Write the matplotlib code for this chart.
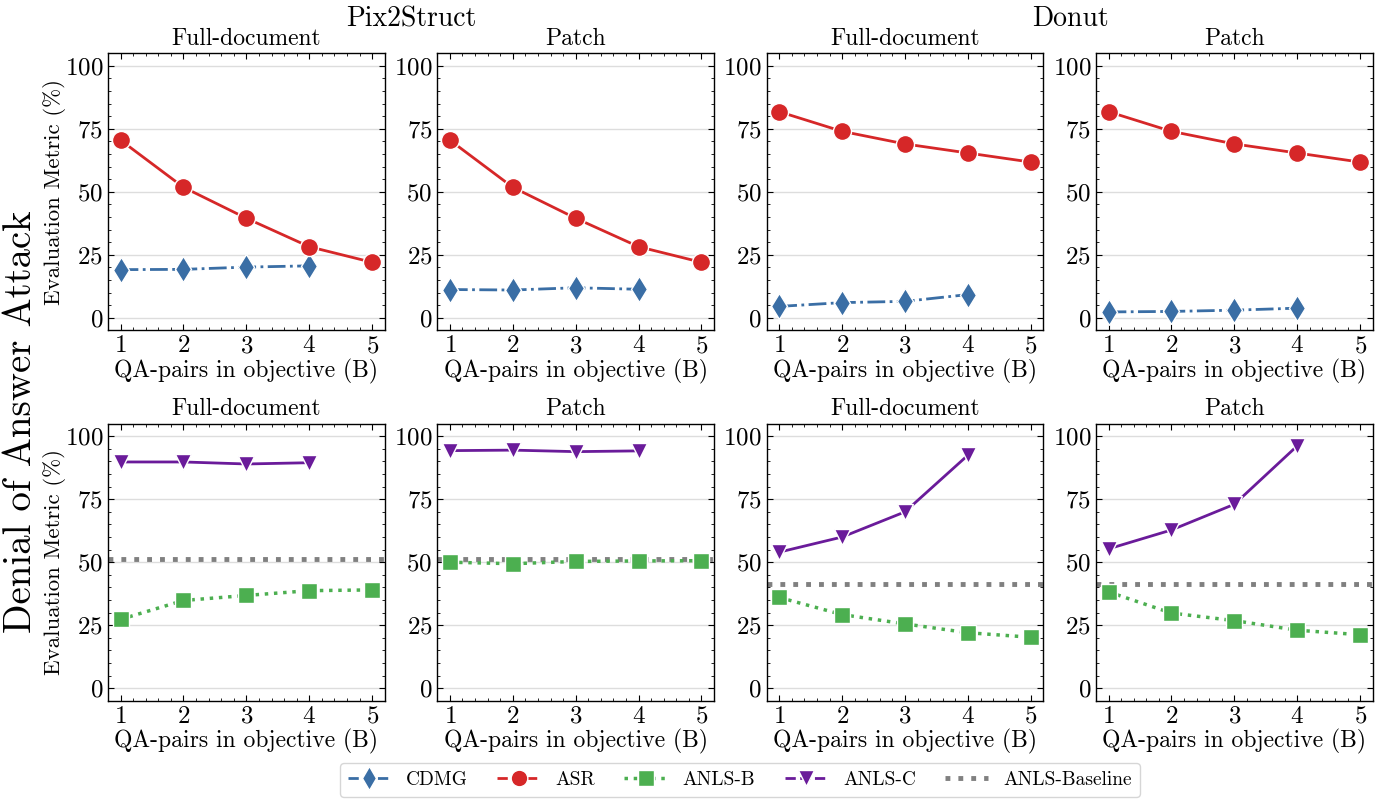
import numpy as np
import matplotlib
matplotlib.use("Agg")
import matplotlib.pyplot as plt
from matplotlib.ticker import AutoMinorLocator
from matplotlib.lines import Line2D

# data
B = [1, 2, 3, 4, 5]
models = ["Pix2Struct", "Donut"]
settings = ["Full-document", "Patch"]

asr = {
    ("Pix2Struct", "Full-document"): [70.5, 51.8, 39.5, 28.2, 22.0],
    ("Pix2Struct", "Patch"): [70.5, 51.8, 39.5, 28.2, 22.0],
    ("Donut", "Full-document"): [81.8, 74.0, 69.0, 65.4, 61.8],
    ("Donut", "Patch"): [81.8, 74.0, 69.0, 65.4, 61.8],
}
cdmg = {
    ("Pix2Struct", "Full-document"): [19.1, 19.2, 20.1, 20.6],
    ("Pix2Struct", "Patch"): [11.2, 11.0, 11.9, 11.3],
    ("Donut", "Full-document"): [4.5, 6.0, 6.5, 9.2],
    ("Donut", "Patch"): [2.3, 2.5, 3.0, 3.8],
}
anls_c = {
    ("Pix2Struct", "Full-document"): [89.8, 89.8, 89.0, 89.5],
    ("Pix2Struct", "Patch"): [94.3, 94.5, 93.9, 94.2],
    ("Donut", "Full-document"): [54.0, 60.0, 70.0, 92.5],
    ("Donut", "Patch"): [55.3, 62.8, 73.0, 96.2],
}
anls_b = {
    ("Pix2Struct", "Full-document"): [27.3, 34.8, 36.8, 38.7, 39.0],
    ("Pix2Struct", "Patch"): [50.0, 49.4, 50.3, 50.5, 50.6],
    ("Donut", "Full-document"): [36.0, 29.2, 25.5, 22.0, 20.2],
    ("Donut", "Patch"): [38.2, 29.8, 26.8, 23.0, 21.2],
}
baseline = {"Pix2Struct": 51.2, "Donut": 41.2}

# style
plt.rcParams["font.family"] = ["cmr10", "DejaVu Serif"]
plt.rcParams["mathtext.fontset"] = "cm"
plt.rcParams["axes.formatter.use_mathtext"] = True
plt.rcParams["axes.unicode_minus"] = False
plt.rcParams["xtick.direction"] = "in"
plt.rcParams["ytick.direction"] = "in"
plt.rcParams["xtick.top"] = True
plt.rcParams["ytick.right"] = True
plt.rcParams["xtick.major.size"] = 4
plt.rcParams["ytick.major.size"] = 4
plt.rcParams["xtick.minor.size"] = 2
plt.rcParams["ytick.minor.size"] = 2
plt.rcParams["xtick.minor.visible"] = True
plt.rcParams["ytick.minor.visible"] = True
plt.rcParams["axes.linewidth"] = 1.0

c_cdmg = "#3a6ea5"
c_asr = "#d62728"
c_b = "#4caf50"
c_c = "#6a1b9a"
c_base = "#808080"

fig, axes = plt.subplots(2, 4, figsize=(13.88, 8), dpi=100)
fig.subplots_adjust(left=0.0778, right=0.989, top=0.9334, bottom=0.1241,
                    wspace=0.19, hspace=0.337)

col = 0
for m in models:
    for s in settings:
        key = (m, s)
        ax = axes[0, col]
        ax.plot(B[:4], cdmg[key], color=c_cdmg, ls="-.", lw=2, marker="d",
                ms=13, mec="white", mew=1)
        ax.plot(B, asr[key], color=c_asr, ls="-", lw=2, marker="o",
                ms=13, mec="white", mew=1)

        ax = axes[1, col]
        ax.axhline(baseline[m], color=c_base, ls=":", lw=3.5)
        ax.plot(B, anls_b[key], color=c_b, ls=":", lw=2.5, marker="s",
                ms=12, mec="white", mew=1)
        ax.plot(B[:4], anls_c[key], color=c_c, ls="-", lw=2, marker="v",
                ms=12, mec="white", mew=1)
        col += 1

for i, ax in enumerate(axes.flat):
    ax.set_xlim(0.8, 5.2)
    ax.set_ylim(-5, 105)
    ax.set_xticks(B)
    ax.set_yticks([0, 25, 50, 75, 100])
    ax.xaxis.set_minor_locator(AutoMinorLocator())
    ax.yaxis.set_minor_locator(AutoMinorLocator())
    ax.grid(axis="y", which="major", color="#dddddd", lw=1)
    ax.set_axisbelow(True)
    ax.tick_params(labelsize=18)
    ax.set_title(settings[i % 2], fontsize=17, pad=6)
    ax.set_xlabel("QA-pairs in objective (B)", fontsize=17, labelpad=1)

for r in range(2):
    axes[r, 0].set_ylabel("Evaluation Metric (%)", fontsize=16.5, labelpad=-1)

fig.text(0.2962, 0.976, "Pix2Struct", ha="center", va="center", fontsize=20)
fig.text(0.771, 0.976, "Donut", ha="center", va="center", fontsize=20)
fig.text(0.0155, 0.4725, "Denial of Answer Attack", rotation=90, ha="center",
         va="center", fontsize=28)

handles = [
    Line2D([], [], color=c_cdmg, ls="--", lw=2, marker="d", ms=12, mec="white"),
    Line2D([], [], color=c_asr, ls="--", lw=2, marker="o", ms=12, mec="white"),
    Line2D([], [], color=c_b, ls=":", lw=2.5, marker="s", ms=12, mec="white"),
    Line2D([], [], color=c_c, ls="--", lw=2, marker="v", ms=12, mec="white"),
    Line2D([], [], color=c_base, ls=":", lw=3.5),
]
labels = ["CDMG", "ASR", "ANLS-B", "ANLS-C", "ANLS-Baseline"]
fig.legend(handles, labels, loc="lower center", bbox_to_anchor=(0.533, -0.008),
           ncol=5, fontsize=14, frameon=True, handlelength=2.2,
           columnspacing=1.5, edgecolor="#cccccc", fancybox=True)

fig.savefig("out.png", dpi=100)
